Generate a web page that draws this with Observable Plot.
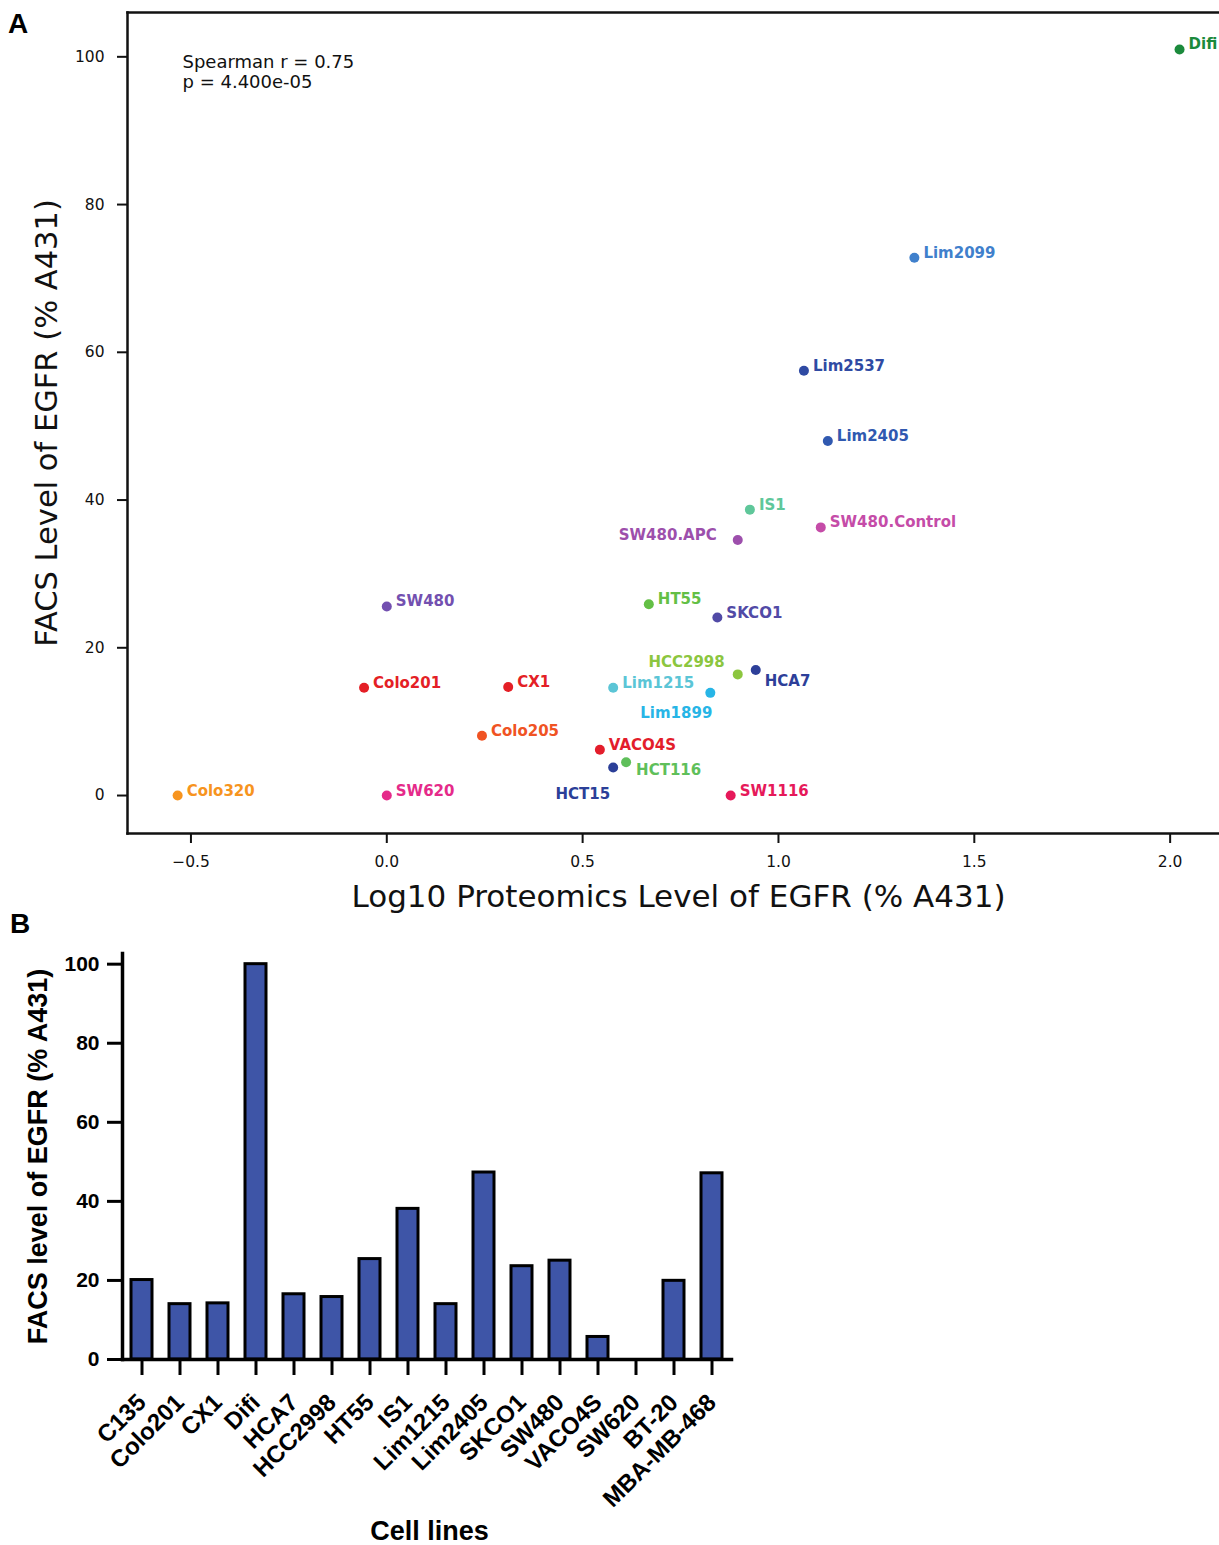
<!DOCTYPE html>
<html>
<head>
<meta charset="utf-8">
<script src="https://cdn.jsdelivr.net/npm/d3@7"></script>
<script src="https://cdn.jsdelivr.net/npm/@observablehq/plot@0.6"></script>
<style>
  html, body { margin: 0; padding: 0; background: #fff; }
  #wrap { position: relative; width: 1219px; height: 1545px; overflow: hidden; background: #fff; }
  .panel { position: absolute; left: 0; }
  .plabel { position: absolute; font-family: "Liberation Sans", Arial, sans-serif; font-weight: bold; font-size: 28px; line-height: 28px; color: #000; }
</style>
</head>
<body>
<div id="wrap">
  <div id="panelA" class="panel" style="top:0px"></div>
  <div id="panelB" class="panel" style="top:915px"></div>
  <div class="plabel" style="left:8px; top:10px;">A</div>
  <div class="plabel" style="left:10px; top:910px;">B</div>
</div>
<script>
// ---------- Panel A data ----------
const scatterNames = ["Difi","Lim2099","Lim2537","Lim2405","IS1","SW480.Control","SW480.APC","SW480","HT55","SKCO1","HCC2998","HCA7","Colo201","CX1","Lim1215","Lim1899","Colo205","VACO4S","HCT116","HCT15","Colo320","SW620","SW1116"];
const proteomicsLog10 = [2.024,1.347,1.065,1.126,0.927,1.108,0.896,0.0,0.669,0.844,0.896,0.942,-0.058,0.310,0.578,0.826,0.243,0.544,0.611,0.578,-0.534,0.0,0.878];
const facsScatter = [101.0,72.8,57.5,48.0,38.7,36.3,34.6,25.6,25.9,24.1,16.4,17.0,14.6,14.7,14.6,13.9,8.1,6.2,4.5,3.8,0,0,0];
const pointColors = ["#1b8a3c","#3f80cc","#2f4aa3","#3059b0","#5fc79a","#c54ca8","#9d4fac","#7350b0","#63bf45","#514aa6","#8cc63f","#2d3f99","#e41f26","#e41f26","#5bc5d6","#27b5e6","#f05323","#e31d2b","#5fbf5a","#2b3f98","#f7941e","#e52a8a","#e6195a"];
const xTicksA = [-0.5, 0, 0.5, 1.0, 1.5, 2.0];
const yTicksA = [0, 20, 40, 60, 80, 100];
const annotationText = ["Spearman r = 0.75\np = 4.400e-05"];
const xTitleA = ["Log10 Proteomics Level of EGFR (% A431)"];
const yTitleA = ["FACS Level of EGFR (% A431)"];

// ---------- Panel B data ----------
const barLines = ["C135","Colo201","CX1","Difi","HCA7","HCC2998","HT55","IS1","Lim1215","Lim2405","SKCO1","SW480","VACO4S","SW620","BT-20","MBA-MB-468"];
const barValues = [20.1,14.0,14.2,100.0,16.5,15.8,25.4,38.1,14.0,47.3,23.6,25.0,5.7,0,19.9,47.1];
const yTicksB = [0, 20, 40, 60, 80, 100];
const xTitleB = ["Cell lines"];
const yTitleB = ["FACS level of EGFR (% A431)"];

// label placement (style only): [dx, dy, textAnchor]
const labelPlacement = {
  "HCC2998": [-13, -7, "end"],
  "HCA7": [9, 16, "start"],
  "Lim1899": [2, 25, "end"],
  "HCT15": [-3, 32, "end"],
  "HCT116": [10, 13, "start"],
  "SW480.APC": [-21, 0, "end"]
};

const points = scatterNames.map((name, i) => ({name, x: proteomicsLog10[i], y: facsScatter[i]}));
const bars = barLines.map((line, i) => ({line, value: barValues[i]}));

const labelFont = {fontFamily: "DejaVu Sans", fontWeight: "bold", fontSize: 15, lineAnchor: "bottom"};
const defaultLabels = Plot.text(points.filter(d => !labelPlacement[d.name]), {
  x: "x", y: "y", text: "name", fill: "name", dx: 9, textAnchor: "start", ...labelFont
});
const specialLabels = Object.entries(labelPlacement).map(([name, [dx, dy, anchor]]) =>
  Plot.text(points.filter(d => d.name === name), {
    x: "x", y: "y", text: "name", fill: "name", dx, dy, textAnchor: anchor, ...labelFont
  })
);

const plotA = Plot.plot({
  width: 1219,
  height: 915,
  marginLeft: 127,
  marginRight: 0,
  marginTop: 12,
  marginBottom: 82,
  x: {domain: [-0.662, 2.126], label: null},
  y: {domain: [-5.14, 106.0], label: null},
  color: {domain: scatterNames, range: pointColors},
  style: {fontFamily: "DejaVu Sans", background: "white", color: "#111"},
  marks: [
    Plot.frame({anchor: "top", strokeWidth: 2.5, stroke: "#111"}),
    Plot.frame({anchor: "left", strokeWidth: 2.5, stroke: "#111"}),
    Plot.frame({anchor: "bottom", strokeWidth: 2.5, stroke: "#111"}),
    Plot.axisX({ticks: xTicksA, tickFormat: d3.format(".1f"), tickSize: 10, tickPadding: 12, fontSize: 15.5, strokeWidth: 2, label: null}),
    Plot.axisY({ticks: yTicksA, tickSize: 10, tickPadding: 13, fontSize: 15.5, strokeWidth: 2, label: null}),
    Plot.dot(points, {x: "x", y: "y", fill: "name", r: 5}),
    defaultLabels,
    ...specialLabels,
    Plot.text(annotationText, {text: d => d, frameAnchor: "top-left", dx: 55, dy: 42, lineAnchor: "top", textAnchor: "start", fontSize: 18, lineHeight: 1.08, fill: "#111"}),
    Plot.text(xTitleA, {text: d => d, frameAnchor: "bottom", dx: 5, dy: 73, lineAnchor: "bottom", textAnchor: "middle", fontSize: 31, fill: "#111"}),
    Plot.text(yTitleA, {text: d => d, frameAnchor: "left", dx: -71, rotate: -90, lineAnchor: "bottom", textAnchor: "middle", fontSize: 30.5, fill: "#111"})
  ]
});
document.getElementById("panelA").appendChild(plotA);

const plotB = Plot.plot({
  width: 760,
  height: 630,
  marginLeft: 122,
  marginRight: 29,
  marginTop: 38,
  marginBottom: 186,
  x: {domain: barLines, paddingInner: 0.45, paddingOuter: 0.224, label: null},
  y: {domain: [0, 102.7], label: null},
  style: {fontFamily: "Liberation Sans, Arial, sans-serif", fontWeight: "bold", background: "white", color: "#000"},
  marks: [
    Plot.barY(bars, {x: "line", y: "value", fill: "#3e55a7", stroke: "#000", strokeWidth: 3}),
    Plot.frame({anchor: "left", strokeWidth: 3.5, stroke: "#000"}),
    Plot.frame({anchor: "bottom", strokeWidth: 3.5, stroke: "#000"}),
    Plot.axisY({ticks: yTicksB, tickSize: 15, tickPadding: 8, fontSize: 21, fontWeight: "bold", strokeWidth: 3, label: null}),
    Plot.axisX({tickRotate: -45, tickSize: 16, tickPadding: 23, fontSize: 24, fontWeight: "bold", strokeWidth: 3, label: null}),
    Plot.text(yTitleB, {text: d => d, frameAnchor: "left", dx: -76, rotate: -90, lineAnchor: "bottom", textAnchor: "middle", fontSize: 27, fontWeight: "bold"}),
    Plot.text(xTitleB, {text: d => d, frameAnchor: "bottom", dx: 2.5, dy: 180, lineAnchor: "bottom", textAnchor: "middle", fontSize: 27, fontWeight: "bold"})
  ]
});
document.getElementById("panelB").appendChild(plotB);
</script>
</body>
</html>
